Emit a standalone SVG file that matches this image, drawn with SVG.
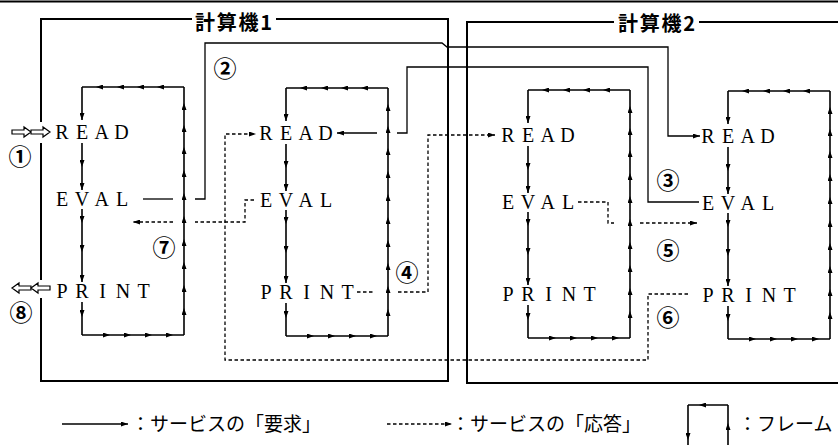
<svg xmlns="http://www.w3.org/2000/svg" width="838" height="445" viewBox="0 0 838 445">
<style>
.box{fill:none;stroke:#000;stroke-width:2}
.fr{fill:none;stroke:#000;stroke-width:1.6}
.req{fill:none;stroke:#000;stroke-width:1.3}
.res{fill:none;stroke:#000;stroke-width:1.3;stroke-dasharray:3.5 2.5}
.mid{marker-mid:url(#ah)}
.end{marker-end:url(#ah)}
.lbl{font-family:"Liberation Serif",serif;font-size:20px;fill:#000;text-anchor:middle}
.cj{font-family:"Noto Sans CJK JP",sans-serif;font-size:19px;fill:#000}
.ttl{font-family:"Noto Sans CJK JP",sans-serif;font-size:20px;font-weight:bold;fill:#000}
.num{font-family:"Noto Sans CJK JP",sans-serif;font-size:23px;font-weight:bold;fill:#000;text-anchor:middle;dominant-baseline:central}
.hol{fill:#fff;stroke:#000;stroke-width:1.2}
</style>
<defs>
<marker id="ah" viewBox="0 0 7 5" refX="7" refY="2.5" markerWidth="7" markerHeight="5" orient="auto" markerUnits="userSpaceOnUse">
<path d="M0,0 L7,2.5 L0,5 Z" fill="#000"/>
</marker>
<g id="frameShape">
<polyline class="fr mid" points="102,0 75,0 55,0 35,0 14,0 0,0"/>
<polyline class="fr mid" points="102,248 102,221 102,198 102,175 102,152 102,129 102,106 102,83 102,60 102,38 102,16 102,0"/>
<polyline class="fr mid" points="0,248 28,248 49,248 70,248 91,248 102,248"/>
<polyline class="fr end" points="0,0 0,33"/>
<polyline class="fr mid end" points="0,56 0,80 0,103"/>
<polyline class="fr mid end" points="0,122 0,136 0,165 0,195"/>
<polyline class="fr mid" points="0,215 0,230 0,248"/>
</g>
</defs>
<rect width="838" height="445" fill="#fff"/>
<line x1="0" y1="1.5" x2="838" y2="1.5" stroke="#000" stroke-width="2"/>

<g id="computer1">
<path class="box" d="M192,19 H41 V122 M41,143 V280 M41,298 V381 H448 V19 H276"/>
<text class="ttl" x="195" y="30" textLength="77" lengthAdjust="spacing">計算機1</text>
</g>
<g id="computer2">
<path class="box" d="M614,22 H467 V383 H838 M699,22 H838"/>
<text class="ttl" x="618" y="31" textLength="77" lengthAdjust="spacing">計算機2</text>
</g>

<g id="c1-frame1" transform="translate(82,87)">
<use href="#frameShape"/>
<text class="lbl" x="-20 0 19.7 39.4" y="52">READ</text>
<text class="lbl" x="-20 0 19.7 40" y="119">EVAL</text>
<text class="lbl" x="-20 0 20.5 41 61.5" y="211">PRINT</text>
</g>
<g id="c1-frame2" transform="translate(286,88)">
<use href="#frameShape"/>
<text class="lbl" x="-20 0 19.7 39.4" y="52">READ</text>
<text class="lbl" x="-20 0 19.7 40" y="119">EVAL</text>
<text class="lbl" x="-20 0 20.5 41 61.5" y="211">PRINT</text>
</g>
<g id="c2-frame1" transform="translate(528,90)">
<use href="#frameShape"/>
<text class="lbl" x="-20 0 19.7 39.4" y="52">READ</text>
<text class="lbl" x="-20 0 19.7 40" y="119">EVAL</text>
<text class="lbl" x="-20 0 20.5 41 61.5" y="211">PRINT</text>
</g>
<g id="c2-frame2" transform="translate(728,91)">
<use href="#frameShape"/>
<text class="lbl" x="-20 0 19.7 39.4" y="52">READ</text>
<text class="lbl" x="-20 0 19.7 40" y="119">EVAL</text>
<text class="lbl" x="-20 0 20.5 41 61.5" y="211">PRINT</text>
</g>

<g id="connectors">
<path class="hol" d="M12,130 H24 V127 L31,132 L24,137 V134 H12 Z"/>
<path class="hol" d="M31,130 H43 V127 L50,132 L43,137 V134 H31 Z"/>
<path class="hol" d="M12,288 L19,283 V286 H31 V290 H19 V293 Z"/>
<path class="hol" d="M31,288 L38,283 V286 H50 V290 H38 V293 Z"/>
<path class="req" d="M143,199 H173"/>
<path class="req end" d="M195,199 H205 V43 H442 L447,47 H668 V136 H700"/>
<path class="req" d="M699,202 H648 V67 H407 V133 H397"/>
<path class="req end" d="M377,133 H337"/>
<path class="res" d="M357,292 H375"/>
<path class="res end" d="M398,292 H428 V135 H495"/>
<path class="res" d="M578,202 H608 V223 H614"/>
<path class="res end" d="M640,223 H697"/>
<path class="res end" d="M688,294 H648 V360 H225 V134 H256"/>
<path class="res" d="M254,200 H245 V222 H195"/>
<path class="res end" d="M173,222 H133"/>
<text class="num" x="20" y="155">①</text>
<text class="num" x="225" y="67">②</text>
<text class="num" x="668" y="179">③</text>
<text class="num" x="407" y="271">④</text>
<text class="num" x="668" y="249">⑤</text>
<text class="num" x="668" y="316">⑥</text>
<text class="num" x="164" y="246">⑦</text>
<text class="num" x="21" y="311">⑧</text>
</g>

<g id="legend">
<path class="req end" d="M62,424 H128"/>
<text class="cj" x="131" y="431">：サービスの「要求」</text>
<path class="res end" d="M387,424 H452"/>
<text class="cj" x="451" y="431">：サービスの「応答」</text>
<polyline class="fr mid" points="728,405 699,405 688,405"/>
<polyline class="fr mid" points="728,445 728,423 728,405"/>
<polyline class="fr mid" points="688,405 688,440 688,445"/>
<text class="cj" x="738" y="431">：フレーム</text>
</g>
</svg>
